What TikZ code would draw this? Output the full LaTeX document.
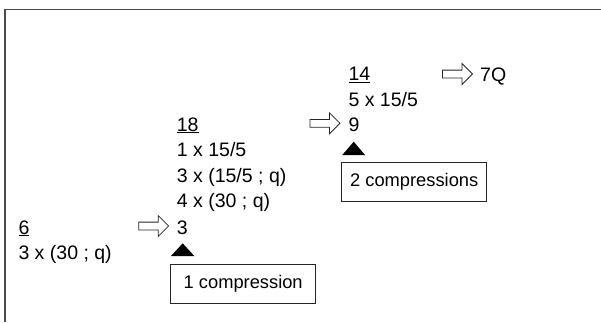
\documentclass[tikz,border=0pt]{standalone}
\usepackage{fontspec}
\setmainfont{Liberation Sans}
\usetikzlibrary{shapes.arrows}
\begin{document}
\begin{tikzpicture}[x=1pt,y=-1pt,
  txt/.style={anchor=base west, inner sep=0pt, font=\fontsize{19.5}{22}\selectfont},
  blockarrow/.style={single arrow, draw=black!85, line width=0.8pt, minimum height=30pt,
    inner xsep=0pt, inner ysep=3.5pt, single arrow head extend=6.5pt, single arrow tip angle=90},
  capbox/.style={draw=black!85, line width=0.9pt, minimum width=145pt, minimum height=39pt,
    inner sep=0pt, font=\fontsize{18.3}{22}\selectfont},
  mark tri/.style={fill=black}
]
\useasboundingbox (0,0) rectangle (601,322);
% frame
\draw[line width=1.4pt, color=black!70] (5,322) -- (5,9.3) -- (601,9.3);

% left column
\node[txt] (n6) at (18.3,234) {\underline{6}};
\node[txt] (l6) at (18.3,259.5) {3 x (30 ; q)};
\node[blockarrow] (arr1) at (151.7,226) {};
\node[txt] (n3) at (176.7,234) {3};

% middle column
\node[txt] (n18) at (176.7,131) {\underline{18}};
\node[txt] (l1) at (176.7,156.5) {1 x 15/5};
\node[txt] (l2) at (176.7,182) {3 x (15/5 ; q)};
\node[txt] (l3) at (176.7,207.5) {4 x (30 ; q)};
\node[blockarrow] (arr2) at (323,123.3) {};
\node[txt] (n9) at (348.3,131.5) {9};

% right column
\node[txt] (n14) at (348.3,80.5) {\underline{14}};
\node[txt] (l4) at (348.3,106) {5 x 15/5};
\node[blockarrow] (arr3) at (455.5,74) {};
\node[txt] (n7q) at (480,81) {7Q};

% markers and boxes
\fill[mark tri] (171,256) -- (182.7,243.3) -- (194.3,256) -- cycle;
\node[capbox] (b1) at (243.2,283.7) {1 compression};
\fill[mark tri] (342.3,155) -- (353.7,141.7) -- (365,155) -- cycle;
\node[capbox] (b2) at (414.2,182.2) {2 compressions};
\end{tikzpicture}
\end{document}
